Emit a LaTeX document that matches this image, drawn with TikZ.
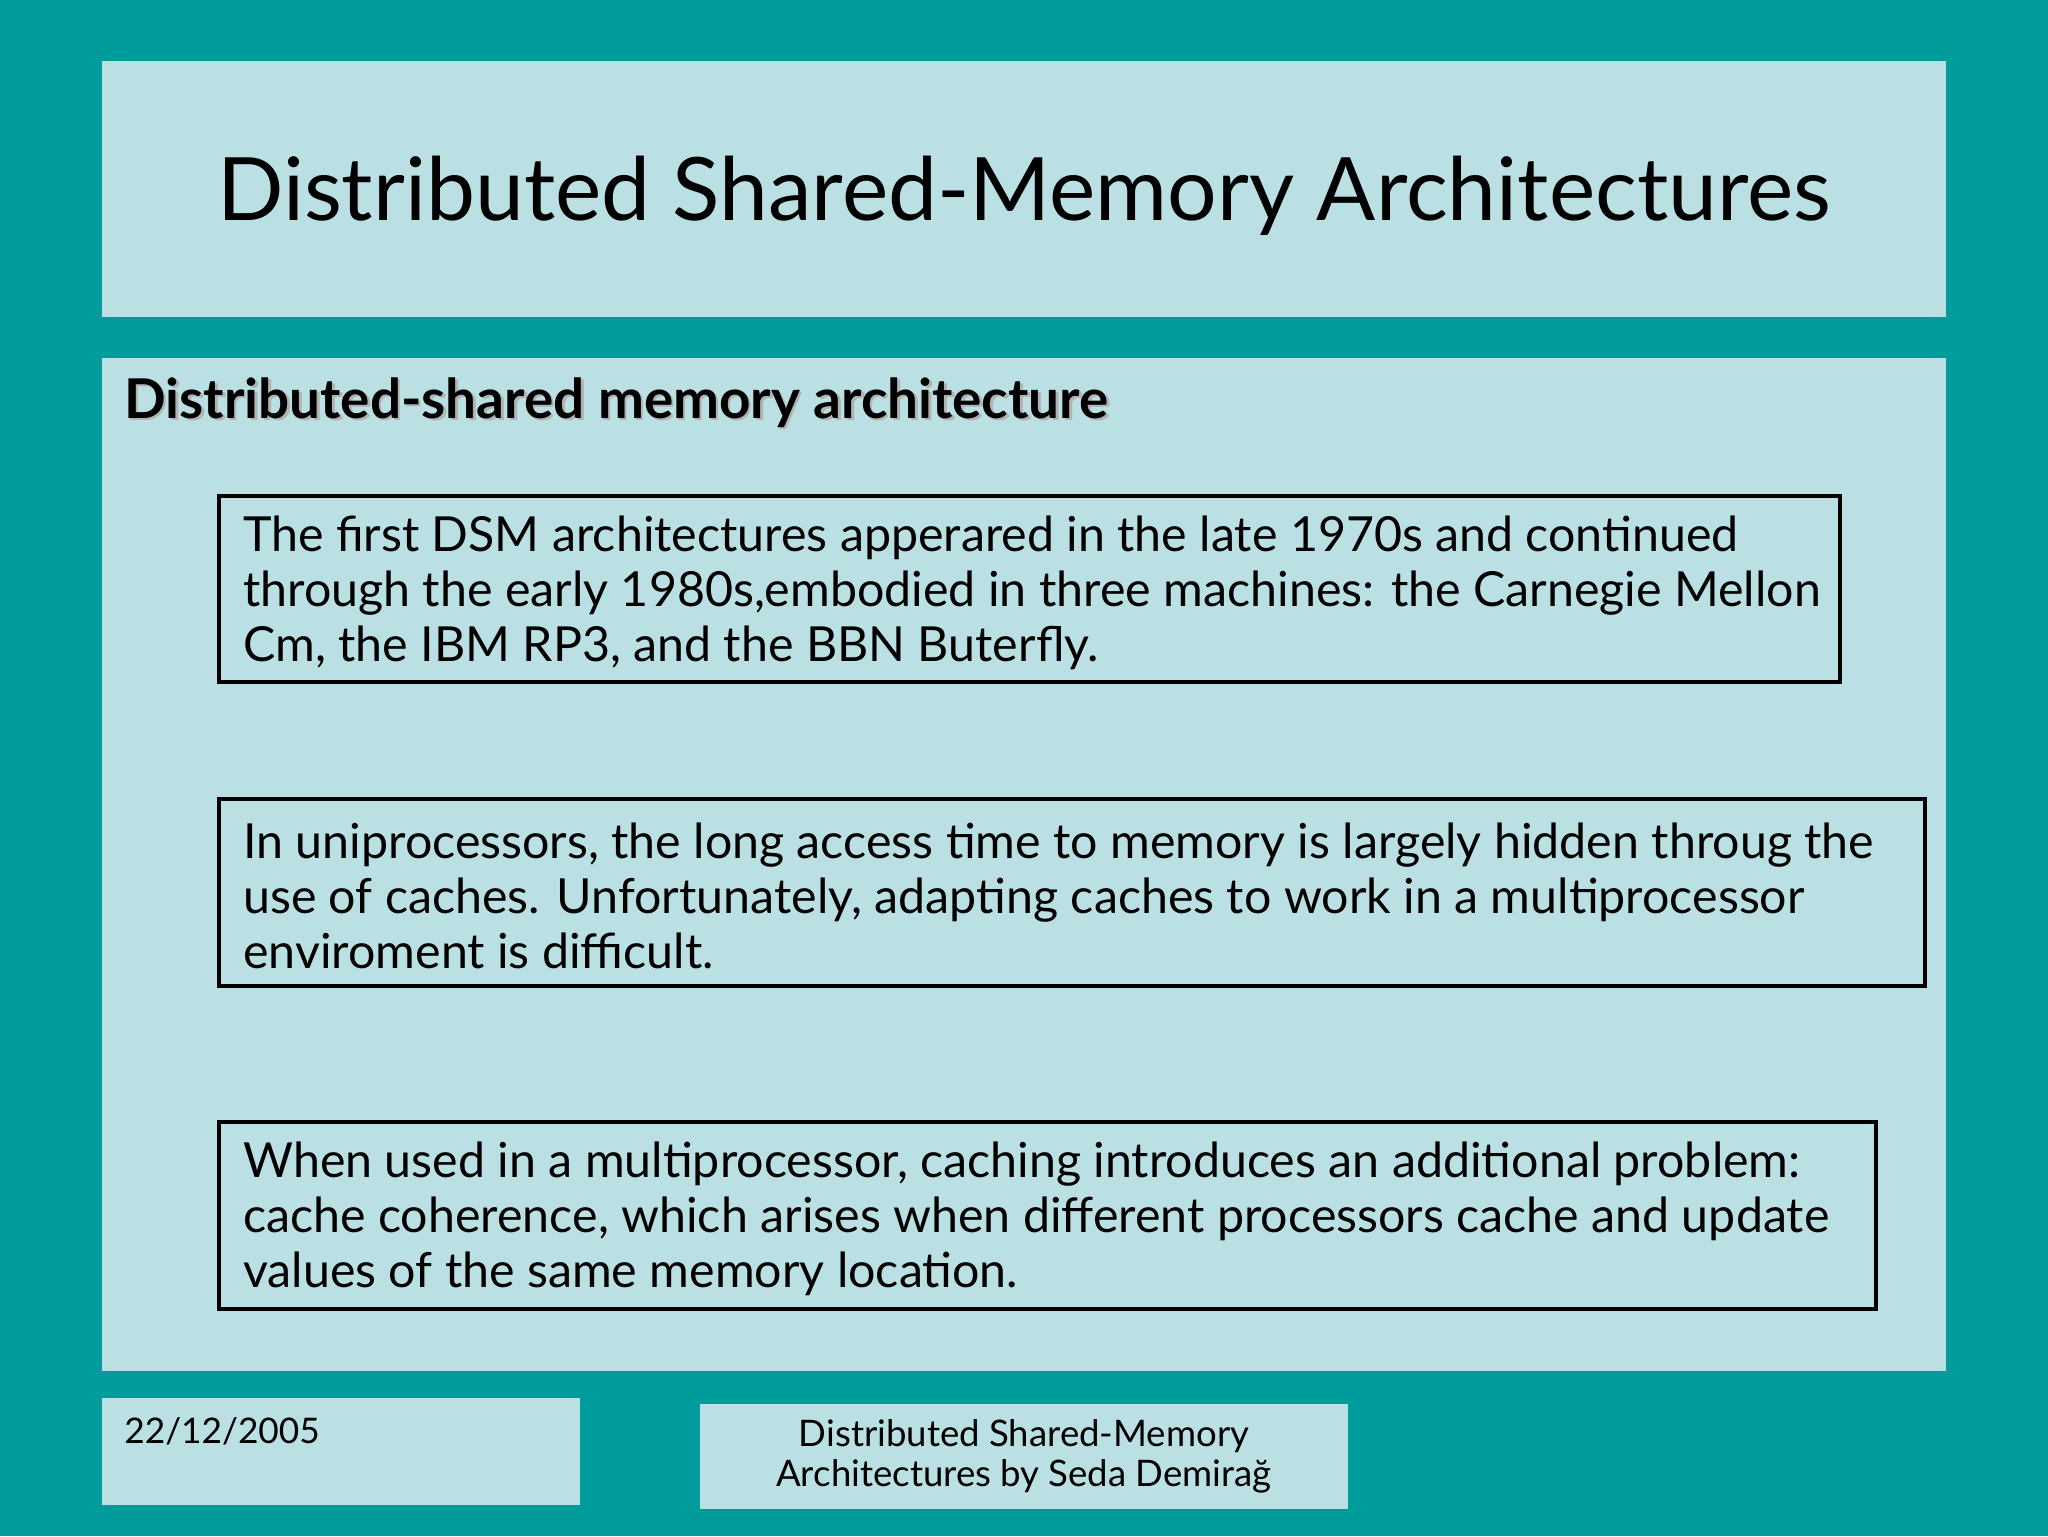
\documentclass[tikz,border=0pt]{standalone}
\usepackage{fontspec}
\setmainfont{Lato}
\definecolor{teal1}{HTML}{009B9B}
\definecolor{pale}{HTML}{BAE0E3}
\begin{document}
\begin{tikzpicture}[x=1pt,y=-1pt,
 panel/.style={fill=pale,draw=none},
 tbox/.style={draw=black,line width=3pt},
 btxt/.style={anchor=west,inner sep=0pt,font=\fontsize{37}{42}\selectfont,align=left}]
\fill[teal1] (0,0) rectangle (1568,1176);
\useasboundingbox (0,0) rectangle (1568,1176);
\fill[panel] (78,47) rectangle (1490,243);
\fill[panel] (78,274) rectangle (1490,1050);
\fill[panel] (78,1070) rectangle (444,1152);
\fill[panel] (536,1075) rectangle (1032,1155);
\node[font=\fontsize{67}{75}\selectfont] (title) at (784,150) {Distributed Shared-Memory Architectures};
\node[anchor=west,inner sep=0pt,text=gray!60,font=\fontsize{42}{48}\selectfont\bfseries] at (97,310) {Distributed-shared memory architecture};
\node[anchor=west,inner sep=0pt,font=\fontsize{42}{48}\selectfont\bfseries] (head) at (95,308) {Distributed-shared memory architecture};
\draw[tbox] (168,380) rectangle (1409,522);
\node[btxt] (t1) at (186,454) {The first DSM architectures apperared in the late 1970s and continued\\through the early 1980s,embodied in three machines: the Carnegie Mellon\\Cm, the IBM RP3, and the BBN Buterfly.};
\draw[tbox] (168,612) rectangle (1474,755);
\node[btxt] (t2) at (186,686) {In uniprocessors, the long access time to memory is largely hidden throug the\\use of caches. Unfortunately, adapting caches to work in a multiprocessor\\enviroment is difficult.};
\draw[tbox] (168,859) rectangle (1436,1002);
\node[btxt] (t3) at (186,933) {When used in a multiprocessor, caching introduces an additional problem:\\cache coherence, which arises when different processors cache and update\\values of the same memory location.};
\node[anchor=west,inner sep=0pt,font=\fontsize{27}{30}\selectfont] (date) at (95,1096) {22/12/2005};
\node[align=center,inner sep=0pt,font=\fontsize{28}{31}\selectfont] (foot) at (784,1115) {Distributed Shared-Memory\\Architectures by Seda Demirağ};
\end{tikzpicture}
\end{document}
